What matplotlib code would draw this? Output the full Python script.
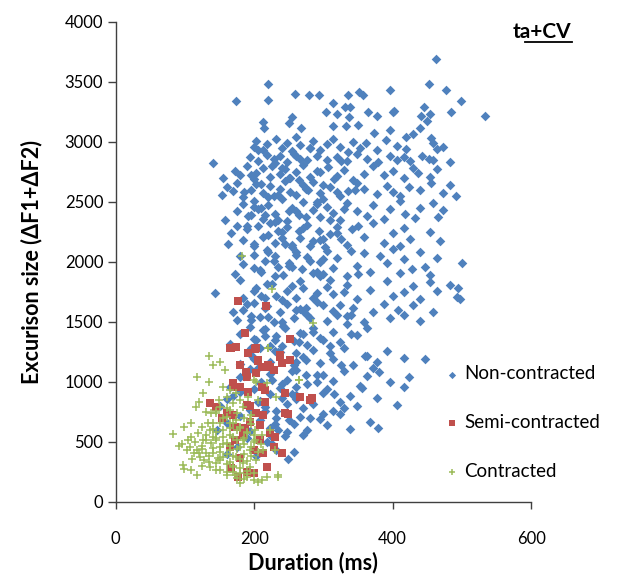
import matplotlib.pyplot as plt
from matplotlib.lines import Line2D

plt.rcParams['font.family'] = ['Lato', 'DejaVu Sans']

# Non-contracted (duration ms, excursion size)
blue_x = [463, 220, 453, 477, 173, 220, 259, 279, 294, 336, 351, 357, 396, 499, 534, 484, 445, 454, 441, 439,
          449, 314, 331, 338, 337, 320, 304, 365, 377, 400, 402, 254, 250, 212, 214, 268, 314, 333, 350, 373,
          396, 430, 419, 455, 141,
          199, 203, 213, 218, 232, 240, 247, 254, 261, 266, 280, 285, 295, 305, 314, 324, 336, 343, 353, 362,
          377, 391, 406, 420, 459, 464, 473,
          194, 206, 218, 228, 237, 247, 257, 266, 276, 290, 305, 319, 334, 348, 363, 379, 396, 406, 416, 425,
          442, 452, 459, 483,
          155, 172, 179, 189, 199, 203, 213, 223, 230, 237, 245, 252, 261, 271, 281, 295, 307, 319, 329, 343,
          358, 372, 387, 401, 416, 430, 437, 454, 464,
          154, 160, 170, 175, 184, 196, 203, 213, 223, 228, 237, 245, 252, 261, 271, 278, 285, 295, 310, 324,
          336, 348, 358, 377, 392, 401, 411, 423, 440, 456, 473, 483, 492,
          158, 175, 184, 191, 199, 206, 213, 220, 230, 240, 247, 254, 264, 271, 285, 295, 305, 314, 324, 334,
          348, 363, 372, 387, 396, 411, 418, 432, 440, 459, 466, 473, 200, 215, 235, 260, 290,
          162, 167, 175, 184, 189, 199, 213, 223, 230, 240, 247, 254, 266, 276, 285, 293, 302, 310, 319, 326,
          334, 341, 358, 372, 387, 401, 411, 416, 425, 454, 469, 205, 220, 245, 265, 300,
          172, 184, 199, 208, 218, 228, 242, 254, 261, 269, 276, 285, 295, 305, 314, 319, 334, 348, 358, 367,
          382, 392, 401, 411, 416, 428, 440, 447, 454, 464, 483, 495, 500, 210, 230, 250, 280, 300,
          143, 184, 203, 218, 232, 247, 266, 285, 305, 314, 334, 348, 367, 392, 401, 416, 430, 440, 454, 464,
          493, 497, 200, 225, 260, 290,
          175, 184, 199, 208, 218, 228, 237, 247, 257, 266, 276, 290, 305, 314, 324, 334, 343, 358, 372, 387,
          396, 408, 416, 430, 440, 459, 195, 215, 240, 270,
          165, 179, 194, 203, 213, 223, 232, 242, 257, 266, 276, 285, 295, 314, 324, 334, 348, 363, 200, 215,
          240, 270, 300,
          179, 194, 208, 223, 237, 257, 271, 285, 295, 310, 314, 329, 343, 363, 377, 392, 416, 447, 200, 230,
          260,
          165, 179, 194, 208, 223, 237, 247, 261, 276, 290, 305, 314, 329, 353, 363, 372, 396, 416, 423, 210,
          240, 275,
          150, 160, 179, 194, 208, 223, 232, 247, 261, 271, 281, 300, 314, 324, 338, 348, 377, 406, 215, 260,
          146, 160, 179, 194, 208, 223, 232, 247, 257, 266, 276, 295, 305, 324, 338, 367, 379, 230,
          160, 175, 189, 203, 218, 232, 244, 249, 257, 225,
          185, 195, 210, 225, 235, 250, 260, 275, 290, 300, 315, 325, 345, 205, 220, 240, 265, 280, 300, 320,
          180, 190, 200, 210, 220, 230, 240, 250, 260, 270, 280, 290, 300, 310, 320, 340, 195, 215, 235, 255,
          275, 295, 330, 350,
          170, 180, 190, 200, 210, 220, 230, 240, 250, 260, 270, 280, 290, 300, 310, 320, 330, 350, 195, 215,
          235, 255, 275, 295, 340,
          185, 195, 205, 215, 225, 235, 245, 255, 265, 275, 285, 300, 310, 325, 340, 360, 380, 200, 230, 260,
          290,
          170, 185, 200, 215, 225, 240, 250, 260, 270, 285, 300, 315, 330, 355, 205, 235, 255, 280]
blue_y = [3689, 3483, 3483, 3433, 3339, 3347, 3400, 3392, 3389, 3389, 3417, 3389, 3428, 3339, 3214, 3247, 3294, 3231, 3214, 3119,
          3175, 3322, 3289, 3289, 3211, 3231, 3250, 3250, 3217, 3250, 3258, 3211, 3153, 3167, 3119, 3119, 3128, 3128, 3139, 3072,
          3097, 3064, 3042, 3036, 2828,
          2960, 3010, 2930, 2985, 3020, 2950, 2990, 2920, 3040, 2970, 2945, 3005, 2935, 2980, 3025, 2960, 2915, 3000, 2950, 2990,
          2930, 3015, 2965, 2940, 2990, 2940, 2960,
          2870, 2840, 2890, 2855, 2880, 2835, 2900, 2860, 2845, 2885, 2850, 2875, 2840, 2895, 2860, 2830, 2880, 2850, 2870, 2840,
          2885, 2855, 2845, 2830,
          2700, 2760, 2720, 2800, 2690, 2740, 2780, 2710, 2820, 2730, 2770, 2695, 2750, 2810, 2705, 2745, 2790, 2715, 2765, 2685,
          2735, 2800, 2725, 2760, 2700, 2780, 2740, 2710, 2770,
          2560, 2620, 2590, 2660, 2540, 2600, 2650, 2575, 2630, 2545, 2610, 2670, 2585, 2555, 2640, 2600, 2665, 2570, 2620, 2545,
          2590, 2655, 2610, 2565, 2635, 2580, 2545, 2625, 2600, 2660, 2575, 2640, 2550,
          2350, 2420, 2480, 2380, 2510, 2440, 2360, 2470, 2400, 2520, 2340, 2450, 2390, 2500, 2430, 2370, 2460, 2410, 2345, 2490,
          2420, 2380, 2470, 2355, 2440, 2510, 2400, 2365, 2450, 2490, 2375, 2430, 2460, 2390, 2350, 2420, 2500,
          2150, 2240, 2300, 2180, 2270, 2130, 2210, 2320, 2160, 2250, 2290, 2140, 2200, 2310, 2170, 2260, 2120, 2230, 2290, 2190,
          2140, 2270, 2210, 2320, 2160, 2240, 2130, 2280, 2190, 2250, 2170, 2300, 2220, 2150, 2260, 2190,
          1900, 1980, 2060, 1930, 2100, 2010, 1890, 1960, 2080, 1940, 2040, 1910, 2000, 2090, 1950, 2030, 1885, 1970, 2070, 1920,
          2050, 1990, 2110, 1905, 2020, 1945, 2085, 1960, 1895, 2035, 1810, 1780, 1990, 1920, 2050, 1970, 2010, 1900,
          1740, 1700, 1780, 1820, 1720, 1760, 1840, 1700, 1790, 1730, 1810, 1690, 1770, 1840, 1720, 1750, 1800, 1690, 1830, 1760,
          1710, 1690, 1760, 1820, 1700, 1740,
          1520, 1600, 1660, 1540, 1630, 1500, 1580, 1650, 1530, 1610, 1560, 1670, 1510, 1590, 1640, 1550, 1620, 1500, 1580, 1650,
          1530, 1600, 1560, 1640, 1510, 1580, 1550, 1620, 1500, 1590,
          1320, 1400, 1460, 1350, 1430, 1300, 1380, 1470, 1340, 1410, 1310, 1450, 1370, 1420, 1330, 1480, 1390, 1450, 1360, 1440,
          1300, 1400, 1350,
          1150, 1230, 1280, 1170, 1250, 1140, 1210, 1270, 1160, 1240, 1190, 1280, 1140, 1220, 1170, 1260, 1200, 1190, 1200, 1260,
          1170,
          960, 1040, 1110, 990, 1070, 950, 1020, 1100, 980, 1060, 940, 1010, 1090, 970, 1050, 1120, 1000, 960, 1040, 1000,
          980, 1060,
          800, 860, 920, 770, 840, 900, 760, 820, 890, 780, 850, 910, 760, 830, 880, 800, 870, 810, 790, 860,
          600, 660, 720, 590, 680, 620, 700, 580, 650, 710, 600, 690, 640, 730, 610, 670, 620, 650,
          400, 460, 530, 380, 500, 430, 550, 360, 420, 480,
          2580, 2720, 2650, 2800, 2560, 2700, 2880, 2610, 2760, 2520, 2690, 2840, 2600, 2930, 2540, 2780, 2680, 2950, 2640, 2580,
          2050, 2300, 2150, 2450, 2080, 2330, 2200, 2420, 2060, 2280, 2130, 2480, 2020, 2350, 2240, 2090, 2390, 2010, 2260, 2120,
          2370, 2180, 2440, 2300,
          1580, 1850, 1650, 1950, 1720, 1540, 1880, 1680, 1990, 1600, 1780, 1530, 1920, 1640, 1850, 1560, 1750, 1900, 1520, 1700,
          1960, 1800, 1620, 1880, 1560,
          1050, 1280, 1120, 1380, 1020, 1250, 1450, 1090, 1330, 1180, 1420, 1060, 1300, 1140, 1400, 1220, 1080, 1190, 1350, 1240,
          1000,
          880, 620, 940, 760, 540, 870, 680, 960, 560, 820, 730, 900, 780, 950, 830, 600, 900, 700]

# Semi-contracted
red_x = [165, 174, 202, 191, 179, 206, 211, 220, 237, 240, 252, 228, 188, 189, 203, 170, 179, 191, 211, 215,
         244, 266, 280, 283, 215, 194, 136, 145, 153, 170, 203, 213, 244, 249, 194, 208, 172, 223, 230, 208,
         184, 172, 165, 213, 228, 240, 199, 179, 167, 189, 199, 177, 218, 160, 186,
         176, 217, 186, 251, 166, 174, 191, 201, 205, 223, 237, 252, 189, 170]
red_y = [1281, 1294, 1281, 1244, 1142, 1183, 1128, 1142, 1225, 1156, 1183, 1100, 1086, 1044, 1072, 989, 961, 919, 961, 933,
         906, 872, 850, 864, 836, 800, 822, 794, 697, 725, 739, 725, 744, 733, 669, 642, 628, 572, 544, 517,
         558, 517, 461, 406, 461, 406, 433, 364, 281, 253, 239, 211, 294, 739, 614,
         1678, 1633, 1406, 1358, 1280, 1289, 1244, 1275, 1175, 1128, 1211, 1183, 808, 961]

# Contracted
green_x = [135, 141, 150, 158, 117, 135, 126, 120, 116, 109, 98, 82, 92, 109, 103, 113, 97, 98, 108, 117,
           127, 125, 131, 136, 141, 145, 130, 149, 160, 165, 174, 179, 184, 145, 155, 165, 174, 179, 160, 170,
           150, 141, 155, 165, 145, 136, 150, 160, 170, 174, 179, 184, 189, 194, 196, 199, 203, 218, 220, 232,
           264, 211, 179, 160, 218, 235, 206, 189, 131, 121, 138, 148, 165, 184, 194, 203, 213, 201, 211, 223,
           201, 194, 172, 133, 141, 126, 107, 117, 119, 124, 138, 150, 165, 170, 155, 191, 206,
           182, 225, 285, 220, 264, 230, 235,
           140, 150, 160, 170, 180, 190, 145, 155, 165, 175, 185, 195, 150, 160, 170, 180, 190, 200, 135, 125,
           115, 130, 140, 150, 160, 170, 180, 190, 200, 175, 165, 155, 145, 185, 195, 205, 210, 200, 185, 175,
           165, 155, 145, 160, 175, 185, 195, 120, 110, 105, 95, 125, 135, 145, 175, 185, 200, 190, 180, 170]
green_y = [1217, 1142, 1169, 1100, 1039, 1003, 906, 836, 789, 656, 622, 567, 467, 544, 433, 406, 308, 272, 267, 225,
           350, 439, 517, 600, 656, 739, 753, 850, 878, 933, 906, 850, 794, 530, 600, 656, 683, 628, 489, 544,
           461, 406, 378, 433, 322, 294, 267, 225, 294, 378, 461, 517, 572, 683, 725, 1017, 1003, 989, 1281, 878,
           1017, 183, 156, 253, 211, 225, 169, 211, 406, 378, 489, 364, 336, 322, 294, 350, 433, 517, 558, 600,
           600, 433, 225, 656, 544, 517, 461, 433, 572, 628, 739, 794, 767, 822, 961, 878, 850,
           2053, 1775, 1494, 1280, 1017, 433, 210,
           450, 420, 400, 380, 360, 340, 520, 480, 560, 520, 480, 460, 350, 320, 300, 280, 260, 240, 380, 470,
           500, 560, 610, 660, 710, 660, 620, 580, 560, 440, 470, 540, 580, 400, 380, 420, 480, 500, 530, 600,
           620, 700, 760, 780, 740, 700, 650, 410, 360, 520, 480, 300, 330, 270, 200, 190, 180, 230, 240, 250]

fig = plt.figure(figsize=(6.19, 5.82), dpi=100)
ax = fig.add_axes([0.187, 0.1375, 0.671, 0.825])

ax.scatter(blue_x, blue_y, marker='D', s=24, color='#4F81BD', linewidths=0, label='Non-contracted', zorder=2)
ax.scatter(red_x, red_y, marker='s', s=34, color='#C0504D', linewidths=0, label='Semi-contracted', zorder=3)
ax.scatter(green_x, green_y, marker='+', s=40, color='#9BBB59', linewidths=1.1, label='Contracted', zorder=4)

ax.set_xlim(0, 600)
ax.set_ylim(0, 4000)
ax.set_xticks([0, 200, 400, 600])
ax.set_yticks(range(0, 4001, 500))
for s in ['top', 'right']:
    ax.spines[s].set_visible(False)
for s in ['left', 'bottom']:
    ax.spines[s].set_color('#404040')
    ax.spines[s].set_linewidth(1.0)
ax.tick_params(axis='y', direction='out', length=6, width=1, pad=3, labelsize=12, color='#404040')
ax.tick_params(axis='x', direction='out', length=5, width=1, pad=16, labelsize=12, color='#404040')

ax.set_xlabel('Duration (ms)', fontsize=15.5, fontweight='bold')
ax.set_ylabel('Excurison size (ΔF1+ΔF2)', fontsize=15.5, fontweight='bold')
ax.xaxis.set_label_coords(0.475, -0.103)
ax.yaxis.set_label_coords(-0.176, 0.5)

ax.legend(loc='upper left', bbox_to_anchor=(0.765, 0.30), frameon=False, fontsize=13.5,
          labelspacing=1.7, handletextpad=0.05, handlelength=1.2, markerscale=0.75,
          borderaxespad=0)

fig.text(0.875, 0.945, 'ta+CV', fontsize=15, fontweight='bold', ha='center', va='center')
fig.add_artist(Line2D([0.848, 0.924], [0.927, 0.927], color='black', lw=1.3))

fig.savefig('out.png', dpi=100)
